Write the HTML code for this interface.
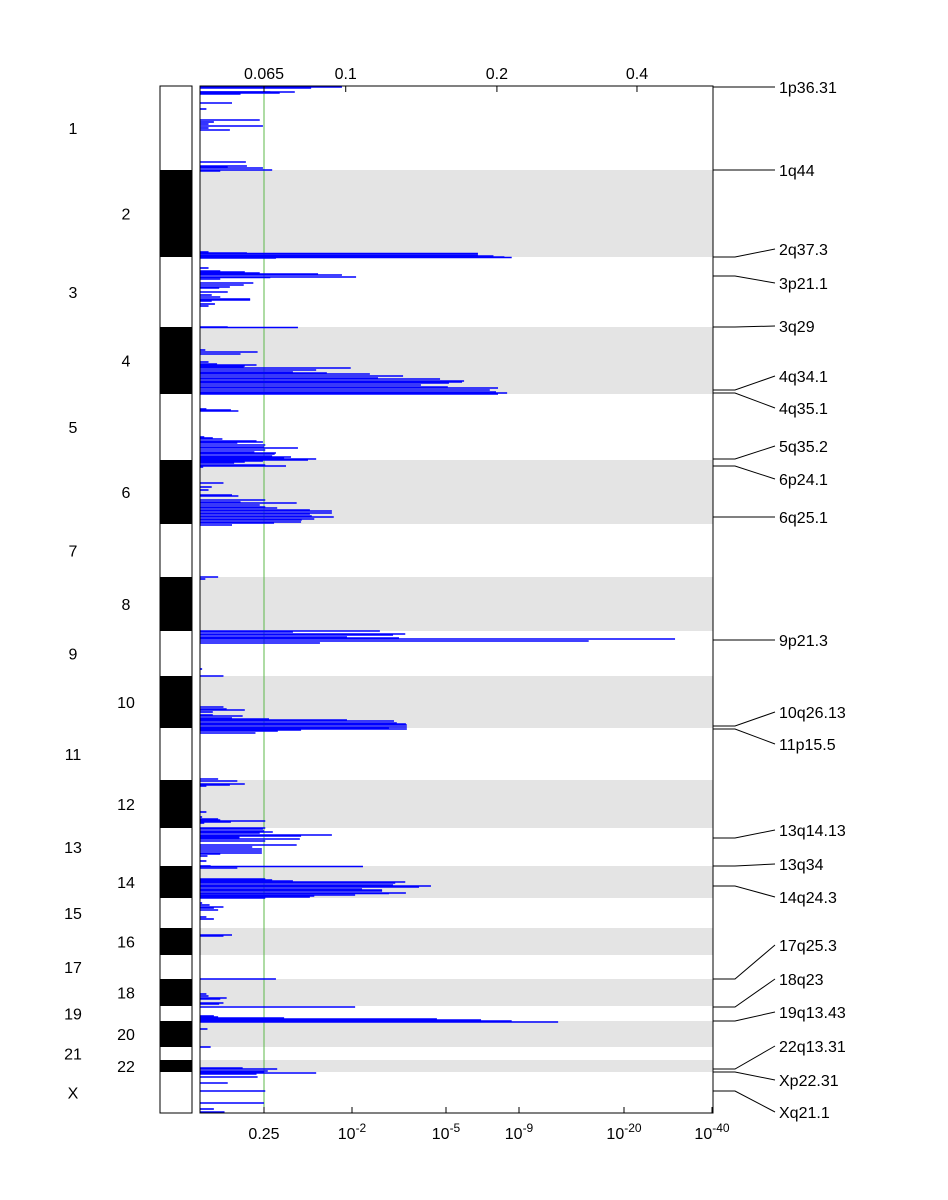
<!DOCTYPE html>
<html><head><meta charset="utf-8"><style>
body{margin:0;background:#fff;width:948px;height:1200px;overflow:hidden}
svg{display:block;font-family:"Liberation Sans",sans-serif}
</style></head><body>
<svg id="chart" width="948" height="1200" viewBox="0 0 948 1200"></svg>
<script>
// ---- data ----
const chromNames=["1","2","3","4","5","6","7","8","9","10","11","12","13","14","15","16","17","18","19","20","21","22","X"];
const chromStarts=[0,84,171,241,308,374,438,491,545,590,642,694,742,780,812,842,869,893,920,935,961,974,986];
const chromEnds=[84,171,241,308,374,438,491,545,590,642,694,742,780,812,842,869,893,920,935,961,974,986,1027];
const segPos=[1,2,6,6,7,8,17,23,34,36,38,40,42,44,76,80,81,82,84,85,166,167,167.5,169,170,171,171.5,172,182,185,186,187,188,189,191,191.5,193,197,199,201,202,206,209,211,213,214,215,218,220,241,241.5,264,266,268,276,278,279,280,281,282,284,286,287,288,290,292,293,295,296,297,299,301,302,304,306,307,308,323,324,325,351,352,353,355,356,357,359,361,362,364,366,367,368,370,371,372,373,374,375,376,377,379,380,381,397,401,404,409,410,414,416,417,419,421,422,424,425,427,428,430,431,433,434,436,437,439,491,493,545,546,548,549,551,552,553,555,557,583,590,621,623,624,626,629,630,632,633,634,635,637,638,639,641,642,643,644,645,647,693,695,698,699,700,726,731,733,734,735,736,737,742,743,745,746,747,749,750,751,752,753,755,759,761,763,765,767,768,770,775,780,780.5,782,793,794,795,796,797,799,800,801,803,804,805,807,807.5,809,810,811,812,817,819,821,822,824,831,833,849,850,893,908,910,912,913,917,918,921,930,931,932,933,934,935,936,943,961,982,983,985,986,987,988,991,997,1005,1017,1023,1026];
const segNegLogP=[1.84,1.35,1.09,0.7,0.85,0.38,0.30,0.06,0.56,0.13,0.08,0.59,0.08,0.28,0.43,0.44,0.26,0.59,0.73,0.19,0.08,0.44,6.75,6.75,7.6,8.2,8.6,0.79,0.08,0.19,0.42,0.56,1.46,1.84,2.13,0.7,0.19,0.5,0.41,0.28,0.18,0.26,0.11,0.19,0.47,0.47,0.11,0.14,0.08,0.26,1.14,0.05,0.54,0.38,0.08,0.16,0.53,0.42,0.41,1.98,1.43,1.06,1.6,2.57,3.63,2.83,4.81,5.99,5.88,5.16,4.2,5.1,7.85,7.4,7.74,8.35,7.85,0.06,0.29,0.36,0.04,0.12,0.21,0.53,0.59,0.35,0.62,0.6,1.14,0.62,0.51,0.79,0.77,0.73,1.03,0.92,1.43,1.3,0.59,0.42,0.32,0.62,0.95,0.03,0.22,0.11,0.08,0.3,0.36,0.62,0.38,1.12,0.56,0.62,0.81,1.33,1.68,1.68,1.33,1.36,1.71,1.4,1.2,1.19,0.76,0.3,0.17,0.05,2.89,1.06,3.7,3.31,1.92,3.5,31.6,16.3,1.49,0.02,0.22,0.22,0.25,0.42,0.12,0.12,0.4,0.3,0.68,1.92,3.34,3.43,3.72,3.75,3.75,3.18,3.75,1.19,0.82,0.52,0.17,0.35,0.42,0.28,0.06,0.06,0.02,0.17,0.19,0.62,0.29,0.04,0.62,0.59,0.6,0.74,0.56,1.68,1.19,0.37,0.37,1.17,0.62,1.12,0.49,0.58,0.58,0.58,0.19,0.07,0.06,0.1,2.35,0.35,0.62,0.73,1.06,3.7,3.38,3.31,4.52,4.14,2.32,2.96,2.96,3.72,3.18,2.1,1.4,1.33,0.62,0.02,0.09,0.22,0.13,0.17,0.06,0.13,0.3,0.22,0.79,0.06,0.08,0.25,0.19,0.22,0.18,2.1,0.13,0.17,0.92,4.71,6.92,8.6,13.1,0.07,0.1,0.4,0.81,0.66,0.6,1.43,0.53,0.54,0.26,0.62,0.6,0.13,0.23];
const bottomTickValues=[0.6,2,5,9,20,40];
const bottomTickLabels=[["0.25",""],["10","-2"],["10","-5"],["10","-9"],["10","-20"],["10","-40"]];
const topTickValues=[0.6,1.9,7.79,22.95];
const topTickLabels=["0.065","0.1","0.2","0.4"];
const annotLabels=["1p36.31","1q44","2q37.3","3p21.1","3q29","4q34.1","4q35.1","5q35.2","6p24.1","6q25.1","9p21.3","10q26.13","11p15.5","13q14.13","13q34","14q24.3","17q25.3","18q23","19q13.43","22q13.31","Xp22.31","Xq21.1"];
const annotPos=[1,84,171,190,241,304,307,373,380,431,554,640,643,752,780,800,893,921,935,983,986,1005];
const annotLabelPos=[1,84,163,197,240,290,322,360,393,431,554,626,658,744,778,811,859,893,926,960,994,1026];

// ---- scales ----
const X0=200,X1=713,Y0=86,Y1=1113,GEN=1027;
const kv=[0,0.6,2,5,9,20,40], kp=[200,264,352,446,519,624,712];
function xs(v){for(let i=1;i<kv.length;i++){if(v<=kv[i]){return kp[i-1]+(v-kv[i-1])/(kv[i]-kv[i-1])*(kp[i]-kp[i-1]);}}return kp[kp.length-1]+(v-40)*4.4;}
function ys(p){return Y0+p/GEN*(Y1-Y0);}

const svg=document.getElementById('chart');
const NS="http://www.w3.org/2000/svg";
function mk(tag,attrs,parent){const e=document.createElementNS(NS,tag);for(const k in attrs)e.setAttribute(k,attrs[k]);(parent||svg).appendChild(e);return e;}

// bands
chromNames.forEach((c,i)=>{
  const y=ys(chromStarts[i]),h=ys(chromEnds[i])-y;
  if(i%2===1&&i<22){
    const b=mk('rect',{x:X0,y:y,width:X1-X0,height:h,fill:'#e4e4e4'});
    
    
  }
  const id=mk('rect',{x:160,y:y,width:32,height:h,fill:(i%2===1&&i<22)?'#000':'#fff'});
  
  
  const t=mk('text',{x:(i%2===1&&i<22)?126:73,y:(y+h/2)+6,'font-size':16,'text-anchor':'middle',fill:'#000'});
  t.textContent=c;
  
  
});
const ib=mk('rect',{x:160,y:Y0,width:32,height:Y1-Y0,fill:'none',stroke:'#000','stroke-width':1});



// threshold line
const th=mk('line',{x1:xs(0.6),x2:xs(0.6),y1:Y0,y2:Y1,stroke:'#5cb84a','stroke-width':1});



// segments
const g=mk('g',{});


segPos.forEach((p,i)=>{
  const y=ys(p);
  const l=mk('line',{x1:X0,x2:xs(segNegLogP[i]),y1:y,y2:y,stroke:'#0000ff','stroke-width':1.6},g);
  
  
});

// frame
const fr=mk('rect',{x:X0,y:Y0,width:X1-X0,height:Y1-Y0,fill:'none',stroke:'#000','stroke-width':1});



// bottom ticks
bottomTickValues.forEach((v,i)=>{
  const x=xs(v);
  mk('line',{x1:x,x2:x,y1:Y1,y2:Y1-6,stroke:'#000'});
  const t=mk('text',{x:x,y:1139,'font-size':16,'text-anchor':'middle',fill:'#000'});
  
  
  const a=bottomTickLabels[i];
  if(a[1]){
    const s1=document.createElementNS(NS,'tspan');s1.textContent=a[0];t.appendChild(s1);
    const s2=document.createElementNS(NS,'tspan');s2.textContent=a[1];s2.setAttribute('dy','-7');s2.setAttribute('font-size','12');t.appendChild(s2);
  }else t.textContent=a[0];
});
// top ticks
topTickValues.forEach((v,i)=>{
  const x=xs(v);
  mk('line',{x1:x,x2:x,y1:Y0,y2:Y0+6,stroke:'#000'});
  const t=mk('text',{x:x,y:79,'font-size':16,'text-anchor':'middle',fill:'#000'});
  t.textContent=topTickLabels[i];
  
  
});
// annotations
annotLabels.forEach((s,i)=>{
  const yp=ys(annotPos[i]),yl=ys(annotLabelPos[i]);
  const pl=mk('polyline',{points:`${X1},${yp} 735,${yp} 775,${yl}`,fill:'none',stroke:'#000','stroke-width':1});
  
  
  const t=mk('text',{x:779,y:yl+6,'font-size':16,fill:'#000'});
  t.textContent=s;
  
  
});
</script>
</body></html>
